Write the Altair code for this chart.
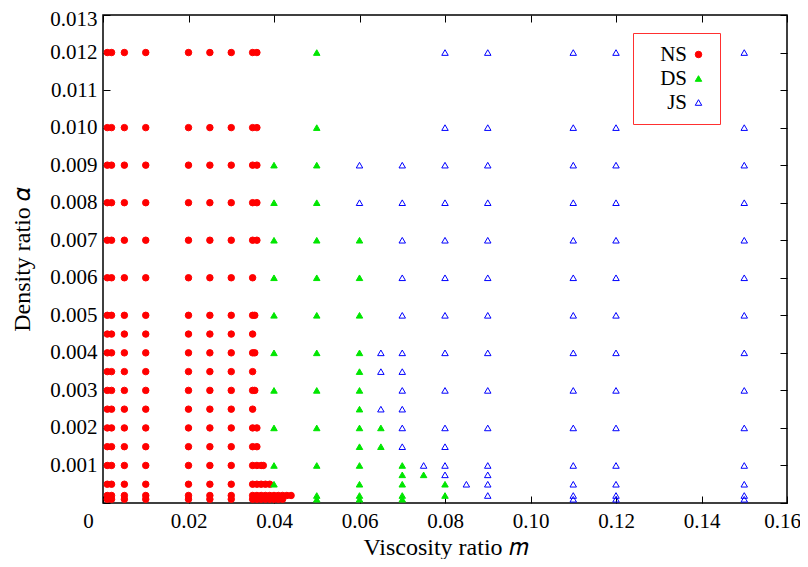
import altair as alt
import pandas as pd

# ---------------- data ----------------
regimes = ["NS", "DS", "JS"]
colors_fill = ["#ff0000", "#00e600", "transparent"]
colors_stroke = ["#ff0000", "#00e600", "#0000ff"]
shapes = ["circle", "triangle-up", "triangle-up"]

x_ticks = [0, 0.02, 0.04, 0.06, 0.08, 0.10, 0.12, 0.14, 0.16]
y_ticks = [0, 0.001, 0.002, 0.003, 0.004, 0.005, 0.006, 0.007, 0.008,
           0.009, 0.010, 0.011, 0.012, 0.013]

# NS: base columns of viscosity ratio m present at every alpha level
ns_base = [0.001, 0.002, 0.005, 0.01, 0.02, 0.025, 0.03, 0.035]
ns_alpha = [0.012, 0.010, 0.009, 0.008, 0.007, 0.006, 0.005, 0.0045, 0.004,
            0.0035, 0.003, 0.0025, 0.002, 0.0015, 0.001, 0.0005, 0.0002, 0.0001]
ns_extra = [
    [0.036], [0.036], [0.036], [0.036], [0.036], [], [0.0355], [], [0.0355],
    [], [0.0355], [], [0.036], [0.036], [0.036, 0.037, 0.0375],
    [0.036, 0.037, 0.038, 0.039],
    [0.036, 0.037, 0.038, 0.039, 0.040, 0.041, 0.042, 0.043, 0.044],
    [0.036, 0.037, 0.038, 0.039, 0.040, 0.041, 0.042],
]

# DS: alpha levels per viscosity-ratio column
ds_m = [0.04, 0.05, 0.06, 0.065, 0.07, 0.075, 0.08]
ds_alpha = [
    [0.009, 0.008, 0.007, 0.006, 0.005, 0.004, 0.003, 0.002, 0.001, 0.0005],
    [0.012, 0.010, 0.009, 0.008, 0.007, 0.006, 0.005, 0.004, 0.003, 0.002,
     0.001, 0.0002, 0.0001],
    [0.007, 0.006, 0.005, 0.004, 0.0035, 0.003, 0.0025, 0.002, 0.0015, 0.001,
     0.0005, 0.0002, 0.0001],
    [0.002, 0.0015],
    [0.001, 0.00075, 0.0005, 0.0002, 0.0001],
    [0.00075],
    [0.0005, 0.0002],
]

# JS: alpha levels per viscosity-ratio column
js_m = [0.06, 0.065, 0.07, 0.075, 0.08, 0.085, 0.09, 0.11, 0.12, 0.15]
js_alpha = [
    [0.009, 0.008],
    [0.004, 0.0035, 0.0025],
    [0.009, 0.008, 0.007, 0.006, 0.005, 0.004, 0.0035, 0.003, 0.0025, 0.002,
     0.0015],
    [0.001],
    [0.012, 0.010, 0.009, 0.008, 0.007, 0.006, 0.005, 0.004, 0.003, 0.002,
     0.0015, 0.001, 0.00075],
    [0.0005],
    [0.012, 0.010, 0.009, 0.008, 0.007, 0.006, 0.005, 0.004, 0.003, 0.002,
     0.001, 0.00075, 0.0005, 0.0002],
    [0.012, 0.010, 0.009, 0.008, 0.007, 0.006, 0.005, 0.004, 0.003, 0.002,
     0.001, 0.0005, 0.0002, 0.0001],
    [0.012, 0.010, 0.009, 0.008, 0.007, 0.006, 0.005, 0.004, 0.003, 0.002,
     0.001, 0.0005, 0.0002, 0.0001],
    [0.012, 0.010, 0.009, 0.008, 0.007, 0.006, 0.005, 0.004, 0.003, 0.002,
     0.001, 0.0005, 0.0002, 0.0001],
]

# ---------------- build table ----------------
rows = []
for a, extra in zip(ns_alpha, ns_extra):
    for m in ns_base + extra:
        rows.append({"m": m, "alpha": a, "regime": "NS"})
for m, alist in zip(ds_m, ds_alpha):
    for a in alist:
        rows.append({"m": m, "alpha": a, "regime": "DS"})
for m, alist in zip(js_m, js_alpha):
    for a in alist:
        rows.append({"m": m, "alpha": a, "regime": "JS"})
df = pd.DataFrame(rows)

FONT = "Liberation Serif"
xscale = alt.Scale(domain=[0, 0.16], nice=False, zero=False)
yscale = alt.Scale(domain=[0, 0.013], nice=False, zero=False)

leg = alt.Legend(
    title="\u00a0", titleOrient="right", titleFontSize=14, titlePadding=5,
    orient="none", legendX=530, legendY=18,
    labelFont=FONT, labelFontSize=21, labelColor="black",
    labelAlign="right", labelOffset=alt.expr("-22"),
    symbolOffset=44,
    strokeColor="#ff3030", fillColor="white", padding=11,
    rowPadding=2,
)

pts = alt.Chart(df).mark_point(opacity=1).encode(
    x=alt.X("m:Q", scale=xscale, axis=alt.Axis(
        values=x_ticks, orient="bottom", grid=False, domain=False,
        labelExpr="datum.value == 0 ? '0' : format(datum.value, '.2f')",
        labelFont=FONT, labelFontSize=21, labelColor="black",
        labelPadding=14, labelFlush=False,
        labelOffset={"condition": [
            {"test": "datum.value === 0", "value": -15},
            {"test": "datum.value > 0.159", "value": -5},
        ], "value": 0},
        tickSize=alt.expr("-7"), tickColor="black", tickWidth=1,
        title="Viscosity ratio 𝑚", titleFont=FONT, titleFontSize=24,
        titleFontWeight="normal", titleColor="black",
        titleY=51, titleBaseline="alphabetic",
    )),
    y=alt.Y("alpha:Q", scale=yscale, axis=alt.Axis(
        values=y_ticks, orient="left", grid=False, domain=False,
        labelExpr="datum.value == 0 ? '' : format(datum.value, '.3f')",
        labelFont=FONT, labelFontSize=21, labelColor="black",
        labelPadding=13, labelFlush=False,
        labelOffset={"condition": {"test": "datum.value > 0.0129", "value": 4}, "value": 0},
        tickSize=alt.expr("-7"), tickColor="black", tickWidth=1,
        title="Density ratio 𝛼", titleFont=FONT, titleFontSize=24,
        titleFontWeight="normal", titleColor="black",
        titleX=-74, titleBaseline="alphabetic",
    )),
    shape=alt.Shape("regime:N", scale=alt.Scale(domain=regimes, range=shapes), legend=leg),
    fill=alt.Fill("regime:N", scale=alt.Scale(domain=regimes, range=colors_fill), legend=leg),
    stroke=alt.Stroke("regime:N", scale=alt.Scale(domain=regimes, range=colors_stroke), legend=leg),
    size=alt.Size("regime:N", scale=alt.Scale(domain=regimes, range=[42, 42, 75]), legend=leg),
    strokeWidth=alt.StrokeWidth("regime:N", scale=alt.Scale(domain=regimes, range=[1, 1, 1.4]), legend=leg),
)

mirror = alt.Chart(df).mark_point(opacity=0).encode(
    x=alt.X("m:Q", scale=xscale, axis=alt.Axis(
        values=x_ticks, orient="top", grid=False, domain=False, labels=False,
        tickSize=alt.expr("-7"), tickColor="black", tickWidth=1, title=None)),
    y=alt.Y("alpha:Q", scale=yscale, axis=alt.Axis(
        values=y_ticks, orient="right", grid=False, domain=False, labels=False,
        tickSize=alt.expr("-7"), tickColor="black", tickWidth=1, title=None)),
)

chart = alt.layer(pts, mirror).resolve_axis(x="independent", y="independent").properties(
    width=684, height=488,
    autosize=alt.AutoSizeParams(type="none"),
    padding={"left": 95, "top": 7, "right": 13, "bottom": 56},
).configure(
    background="white", font=FONT
).configure_view(
    stroke="black", strokeWidth=1.5
).configure_axis(
    labelFont=FONT, titleFont=FONT
).configure_legend(
    labelFont=FONT, titleFont=FONT
)

chart.save("out.html", embed_options={"renderer": "svg", "actions": False})
